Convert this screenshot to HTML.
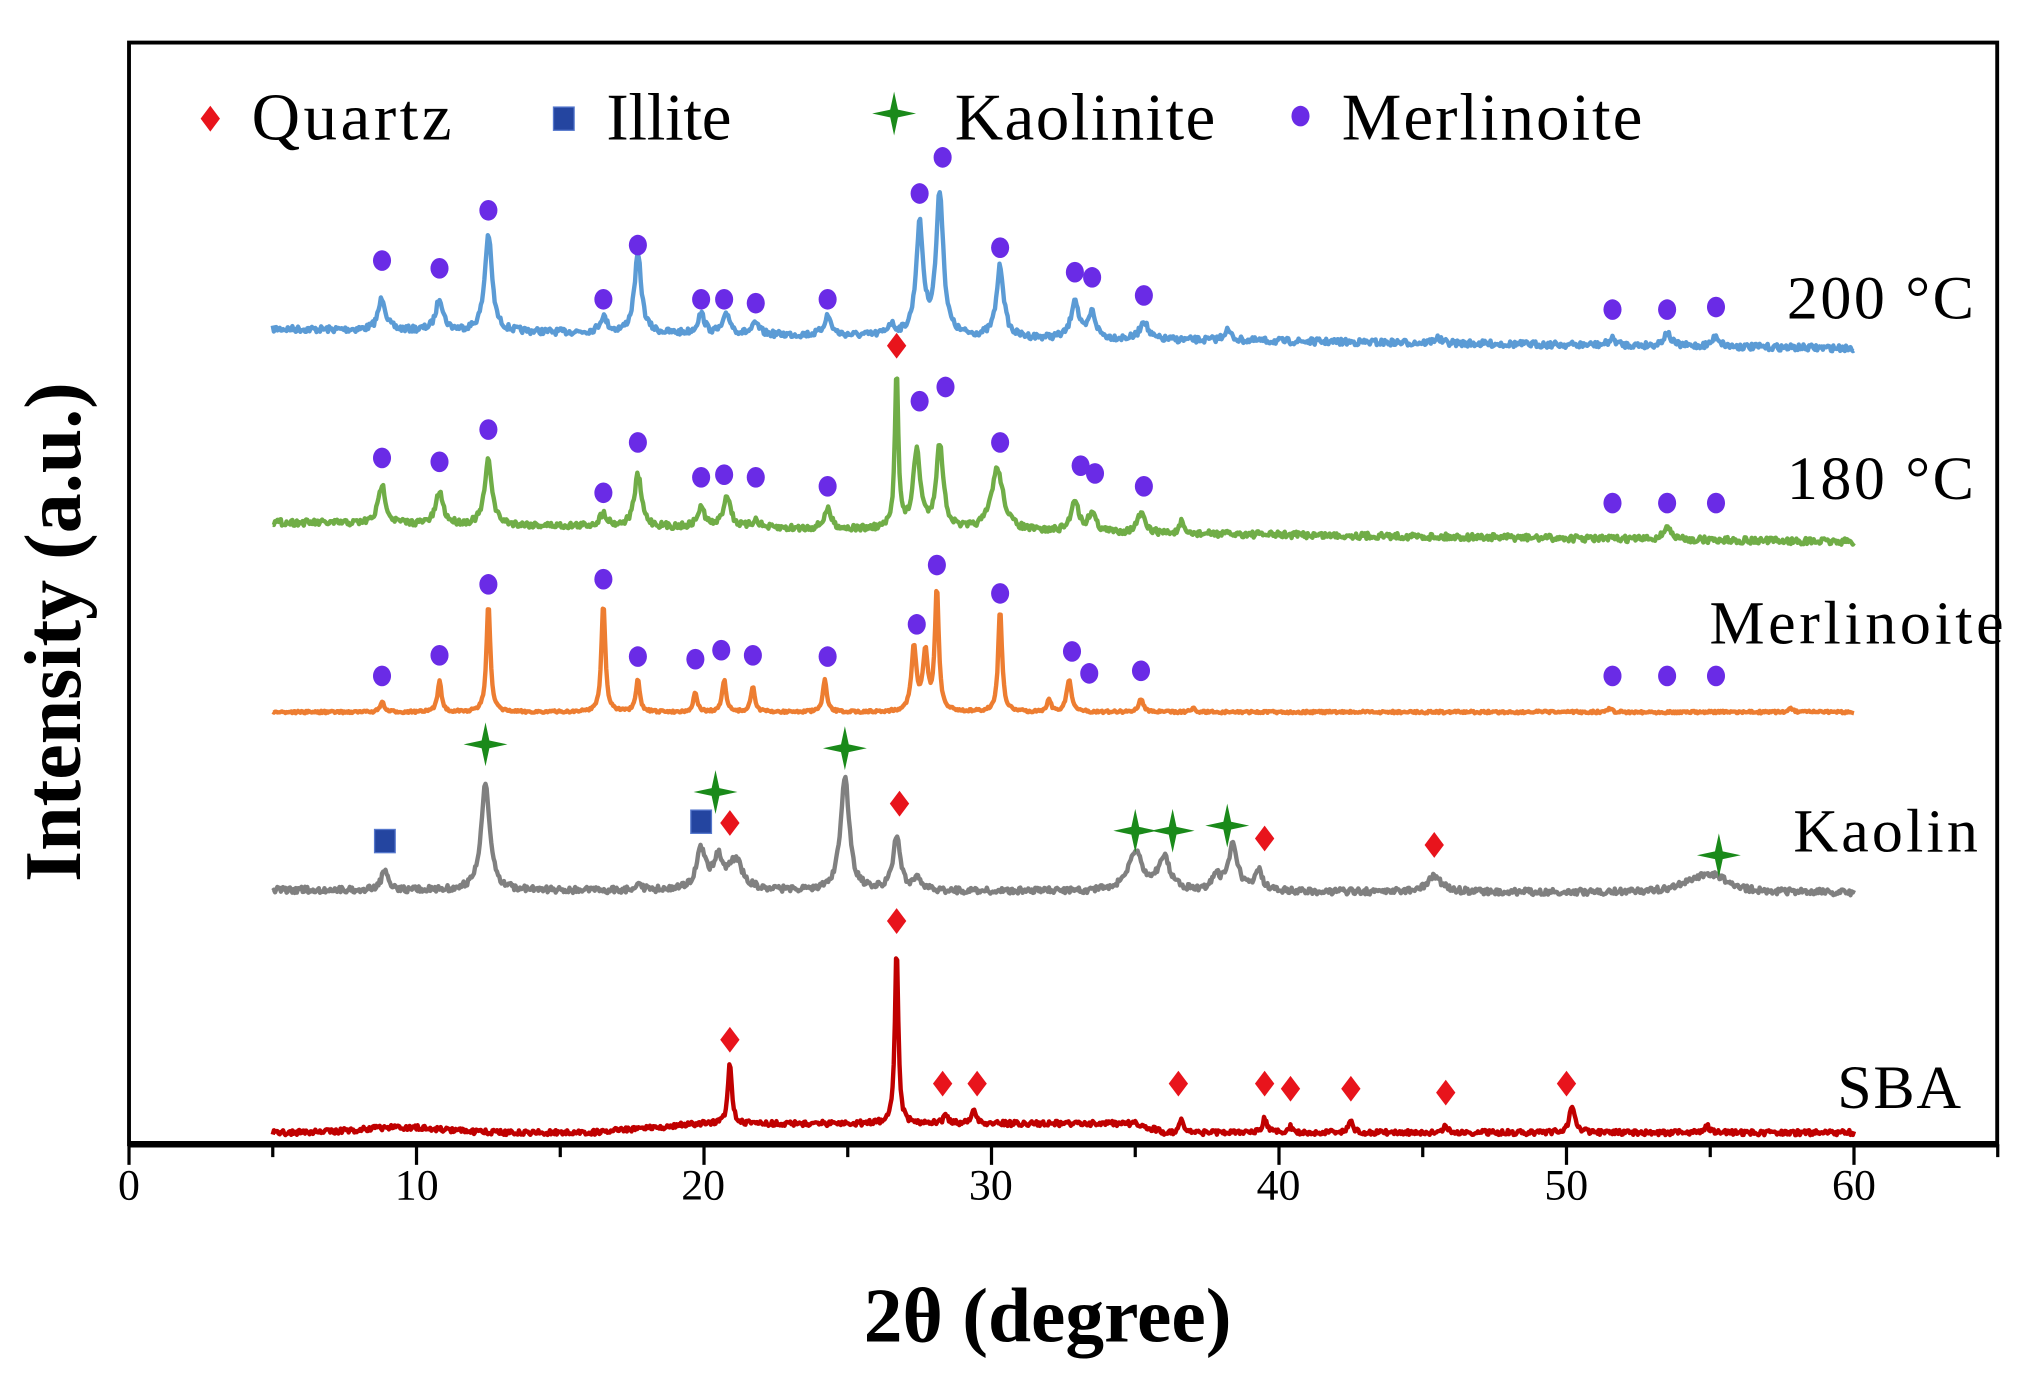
<!DOCTYPE html>
<html><head><meta charset="utf-8"><style>
html,body{margin:0;padding:0;background:#fff;}
svg{display:block;}
</style></head><body>
<svg id="s" width="2023" height="1379" viewBox="0 0 1568 1069" preserveAspectRatio="none" xmlns="http://www.w3.org/2000/svg">
<rect x="0" y="0" width="1568" height="1069" fill="#fff"/>
<g id="series"></g>
<g id="marks"></g>
<rect x="100" y="33" width="1448" height="854" fill="none" stroke="#000" stroke-width="3"/>
<line x1="100" y1="887" x2="1548" y2="887" stroke="#000" stroke-width="5"/>
<g id="ticks" stroke="#000" stroke-width="2.5"></g>
<g font-family="Liberation Serif, serif" font-size="34" text-anchor="middle" fill="#000">
<text x="100" y="930">0</text><text x="323" y="930">10</text><text x="545" y="930">20</text>
<text x="768" y="930">30</text><text x="991" y="930">40</text><text x="1214" y="930">50</text><text x="1437" y="930">60</text>
</g>
<text x="812" y="1040" font-family="Liberation Serif, serif" font-size="60" font-weight="bold" text-anchor="middle">2θ (degree)</text>
<text transform="translate(62,490) rotate(-90)" font-family="Liberation Serif, serif" font-size="62" font-weight="bold" text-anchor="middle">Intensity (a.u.)</text>
<g font-family="Liberation Serif, serif" font-size="48" fill="#000">
<text x="1385" y="247" textLength="145">200 °C</text>
<text x="1385" y="387" textLength="145">180 °C</text>
<text x="1325" y="499" textLength="228">Merlinoite</text>
<text x="1390" y="660" textLength="143">Kaolin</text>
<text x="1424" y="859" textLength="96">SBA</text>
</g>
<g font-family="Liberation Serif, serif" font-size="52" fill="#000">
<text x="195" y="108" textLength="155">Quartz</text>
<text x="470" y="108" textLength="97">Illite</text>
<text x="740" y="108" textLength="202">Kaolinite</text>
<text x="1040" y="108" textLength="233">Merlinoite</text>
</g>
</svg>
<script>
var NS="http://www.w3.org/2000/svg";
function X(t){return 100+t*1337/60;}
var seed=7;function rnd(){seed=(seed*16807)%2147483647;return seed/2147483647;}
function el(tag,a,p){var e=document.createElementNS(NS,tag);for(var k in a)e.setAttribute(k,a[k]);p.appendChild(e);return e;}
var S=document.getElementById('series'),M=document.getElementById('marks'),T=document.getElementById('ticks');
for(var t=0;t<=65;t+=5){var x=X(t);el('line',{x1:x,y1:887,x2:x,y2:(t%10==0)?903:897},T);}
function series(b0,b1,peaks,col,noise,w,extra){
 var d="";for(var t=5;t<=60;t+=0.04){var y=b0+(b1-b0)*(t-5)/55;
  if(extra)y+=extra(t);
  for(var i=0;i<peaks.length;i++){var p=peaks[i],ww=p[2]||w;var u=(t-p[0])/ww;y-=p[1]/(1+u*u);}
  y+=(rnd()-0.5)*noise;
  d+=(d?"L":"M")+X(t).toFixed(1)+" "+y.toFixed(1);}
 el('path',{d:d,fill:"none",stroke:col,"stroke-width":3.4,"stroke-linejoin":"round"},S);
}
series(255,270,[[8.8,25],[10.8,25],[12.5,75],[16.5,12],[17.7,60],[19.9,15],[20.8,15],[21.8,8],[24.3,15],[26.5,8],[27.5,85],[28.2,110],[30.3,55],[32.9,30],[33.5,20],[35.3,15],[38.2,8],[45.5,4],[51.6,5],[53.5,10],[55.2,8]],"#5b9bd5",5,0.15);
series(405,420,[[8.8,30],[10.8,25],[12.5,50],[16.5,10],[17.7,40],[19.9,15],[20.8,25],[21.8,6],[24.3,15],[26.7,125,0.07],[27.4,60],[28.2,65],[30.2,48,0.25],[32.9,25],[33.5,15],[35.2,15],[36.6,10,0.06],[53.5,10]],"#70ad47",5,0.15);
series(552,552,[[8.8,8,0.08],[10.8,25,0.08],[12.5,85,0.08],[16.5,85,0.08],[17.7,25,0.08],[19.7,15,0.08],[20.7,25,0.08],[21.7,20,0.08],[24.2,25,0.08],[27.3,50,0.1],[27.7,45,0.1],[28.1,95,0.08],[30.3,80,0.08],[32.0,10,0.08],[32.7,25,0.1],[35.2,10,0.1],[37,3],[51.5,3],[57.8,3]],"#ed7d31",2,0.08);
series(690,692,[[8.9,15],[12.4,82,0.18],[17.7,5],[19.9,30,0.2],[20.5,22,0.2],[21.1,22,0.3],[24.9,88,0.18],[26.7,42,0.15],[27.4,10],[35.0,30,0.3],[36.0,25,0.25],[37.8,12],[38.4,35,0.2],[39.3,15],[45.4,12,0.3],[54.5,8,0.6],[55.2,10,0.6]],"#808080",5,0.15);
series(878,878,[[20.9,48,0.08],[26.7,138,0.07],[28.4,8,0.08],[29.4,10,0.1],[36.6,10,0.08],[39.5,12,0.08],[40.4,5,0.08],[42.5,10,0.08],[45.8,5,0.08],[50.2,20,0.12],[54.9,5,0.1]],"#c00000",4,0.1,function(t){var h=0;h-=4*Math.exp(-Math.pow((t-9.5)/2,2));if(t>16&&t<36)h-=7*Math.min(1,(t-16)/4)*Math.min(1,(36-t)/1);return h;});
function circ(t,y){el('ellipse',{cx:X(t),cy:y,rx:7,ry:8,fill:"#6a2be6"},M);}
function dia(t,y,px){var x=px||X(t);el('polygon',{points:[x,y-10,x+7.5,y,x,y+10,x-7.5,y].join(" "),fill:"#e8141c"},M);}
function sq(t,y,px){var x=px||X(t);el('rect',{x:x-8,y:y-9,width:16,height:18,fill:"#2445a0",stroke:"#5577cc","stroke-width":1},M);}
function star(t,y,px){var x=px||X(t),r=17,q=3;el('polygon',{points:[x,y-r,x+q,y-q,x+r,y,x+q,y+q,x,y+r,x-q,y+q,x-r,y,x-q,y-q].join(" "),fill:"#1a8a1a"},M);}
[[8.8,202],[10.8,208],[12.5,163],[16.5,232],[17.7,190],[19.9,232],[20.7,232],[21.8,235],[24.3,232],[27.5,150],[28.3,122],[30.3,192],[32.9,211],[33.5,215],[35.3,229],[51.6,240],[53.5,240],[55.2,238]].forEach(function(p){circ(p[0],p[1]);});
[[8.8,355],[10.8,358],[12.5,333],[16.5,382],[17.7,343],[19.9,370],[20.7,368],[21.8,370],[24.3,377],[27.5,311],[28.4,300],[30.3,343],[33.1,361],[33.6,367],[35.3,377],[51.6,390],[53.5,390],[55.2,390]].forEach(function(p){circ(p[0],p[1]);});
[[8.8,524],[10.8,508],[12.5,453],[16.5,449],[17.7,509],[19.7,511],[20.6,504],[21.7,508],[24.3,509],[27.4,484],[28.1,438],[30.3,460],[32.8,505],[33.4,522],[35.2,520],[51.6,524],[53.5,524],[55.2,524]].forEach(function(p){circ(p[0],p[1]);});
dia(26.7,268);
sq(8.9,652);sq(19.9,637);
[[12.4,577],[20.4,614],[24.9,580],[35.0,644],[36.3,644],[38.2,640],[55.3,663]].forEach(function(p){star(p[0],p[1]);});
[[20.9,638],[26.8,623],[39.5,650],[45.4,655]].forEach(function(p){dia(p[0],p[1]);});
[[20.9,806],[26.7,714],[28.3,840],[29.5,840],[36.5,840],[39.5,840],[40.4,844],[42.5,844],[45.8,847],[50.0,840]].forEach(function(p){dia(p[0],p[1]);});
dia(0,92,163);sq(0,92,437);star(0,88,693);el('ellipse',{cx:1008,cy:90,rx:7,ry:8,fill:"#6a2be6"},M);
</script>
</body></html>
